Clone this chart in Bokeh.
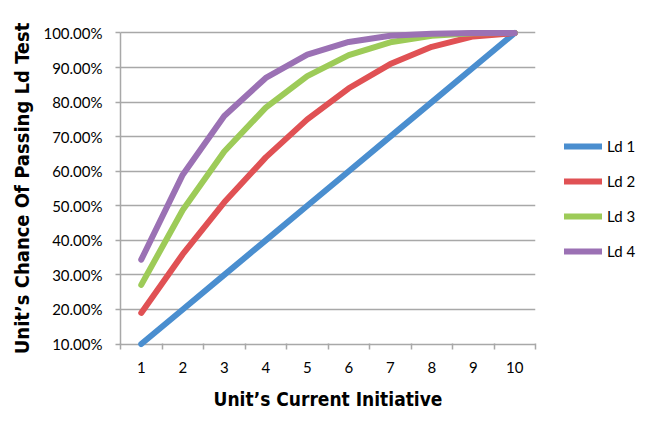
from bokeh.plotting import figure
from bokeh.models import Range1d, FixedTicker, NumeralTickFormatter, Legend, LegendItem
from bokeh.embed import file_html
from bokeh.resources import INLINE

initiative = [1, 2, 3, 4, 5, 6, 7, 8, 9, 10]
ld1 = [0.10, 0.20, 0.30, 0.40, 0.50, 0.60, 0.70, 0.80, 0.90, 1.00]
ld2 = [0.19, 0.36, 0.51, 0.64, 0.75, 0.84, 0.91, 0.96, 0.99, 1.00]
ld3 = [0.271, 0.488, 0.657, 0.784, 0.875, 0.936, 0.973, 0.992, 0.999, 1.00]
ld4 = [0.344, 0.590, 0.760, 0.870, 0.9375, 0.974, 0.992, 0.998, 0.9999, 1.00]
series_names = ["Ld 1", "Ld 2", "Ld 3", "Ld 4"]
colors = ["#4a8ecf", "#e05154", "#9dcb58", "#9b71b4"]
y_ticks = [0.1, 0.2, 0.3, 0.4, 0.5, 0.6, 0.7, 0.8, 0.9, 1.0]

pad = 0.0101
p = figure(width=646, height=408, output_backend="svg", toolbar_location=None,
           x_range=Range1d(0.5, 10.5), y_range=Range1d(0.1 - pad, 1.0 + pad),
           min_border_left=120, min_border_top=29, min_border_right=111, min_border_bottom=61,
           frame_width=415, frame_height=318)
p.outline_line_color = None
p.background_fill_color = "white"

font_tick = "Lato"
font_title = "DejaVu Sans Condensed"

# x axis
xa = p.xaxis[0]
xa.ticker = FixedTicker(ticks=initiative, minor_ticks=[i + 0.5 for i in range(0, 11)])
xa.axis_line_color = None
xa.major_tick_line_color = None
xa.minor_tick_line_color = "#a8a8a8"
xa.minor_tick_line_width = 1.5
xa.minor_tick_in = 4
xa.minor_tick_out = 2
xa.major_label_text_font = font_tick
xa.major_label_text_font_size = "15px"
xa.major_label_text_color = "black"
xa.major_label_standoff = 8
xa.axis_label = "Unit\u2019s Current Initiative"
xa.axis_label_text_font = font_title
xa.axis_label_text_font_style = "bold"
xa.axis_label_text_font_size = "19px"
xa.axis_label_text_color = "black"
xa.axis_label_standoff = 12

# y axis
ya = p.yaxis[0]
ya.ticker = FixedTicker(ticks=y_ticks)
ya.bounds = (0.1, 1.0)
ya.formatter = NumeralTickFormatter(format="0.00%")
ya.axis_line_color = "#a8a8a8"
ya.axis_line_width = 1.5
ya.major_tick_line_color = "#a8a8a8"
ya.major_tick_line_width = 1.5
ya.major_tick_in = 0
ya.major_tick_out = 5
ya.minor_tick_line_color = None
ya.major_label_text_font = font_tick
ya.major_label_text_font_size = "15px"
ya.major_label_text_color = "black"
ya.major_label_standoff = 13
ya.axis_label = "Unit\u2019s Chance Of Passing Ld Test"
ya.axis_label_text_font = font_title
ya.axis_label_text_font_style = "bold"
ya.axis_label_text_font_size = "20px"
ya.axis_label_text_color = "black"
ya.axis_label_standoff = 6

p.xgrid.grid_line_color = None
p.ygrid.ticker = FixedTicker(ticks=y_ticks)
p.ygrid.grid_line_color = "#a8a8a8"
p.ygrid.grid_line_width = 1.5

items = []
for name, ys, c in zip(series_names, [ld1, ld2, ld3, ld4], colors):
    r = p.line(initiative, ys, line_color=c, line_width=6, line_join="round", line_cap="round")
    items.append(LegendItem(label=name, renderers=[r]))

legend = Legend(items=items, location=(29, 86), orientation="vertical",
                glyph_width=38, glyph_height=20, spacing=15, padding=0, margin=0,
                label_standoff=5, label_text_font=font_tick, label_text_font_size="15px",
                label_text_color="black", border_line_color=None, background_fill_alpha=0)
p.add_layout(legend, "right")

open("out.html", "w").write(file_html(p, INLINE))
